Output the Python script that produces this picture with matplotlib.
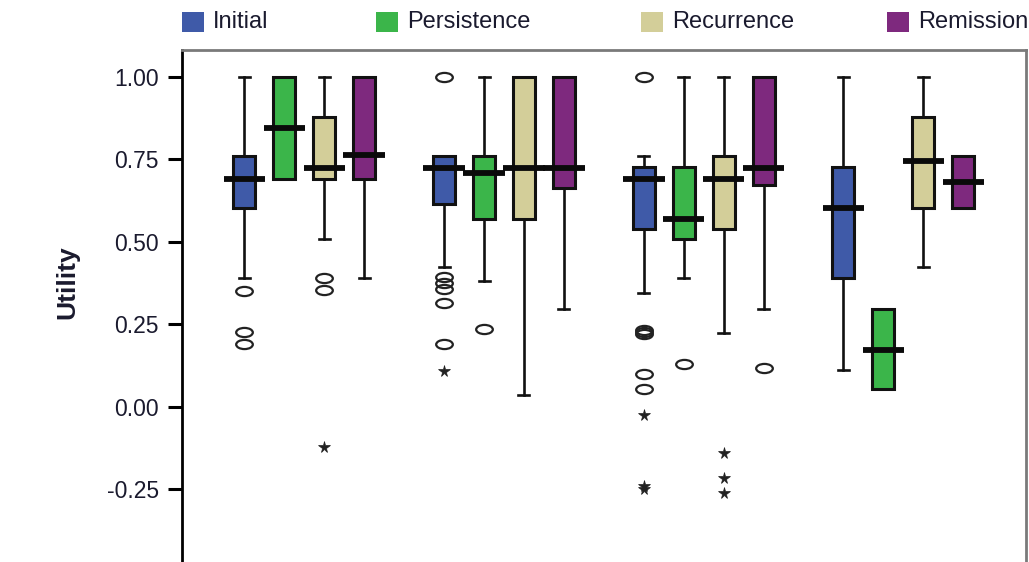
import matplotlib
matplotlib.use("Agg")
import matplotlib.pyplot as plt
import numpy as np
from matplotlib.path import Path
from matplotlib.transforms import Affine2D
from matplotlib.patches import Rectangle

plt.rcParams["font.family"] = ["Liberation Sans", "DejaVu Sans"]

# Health-state series
series = ["Initial", "Persistence", "Recurrence", "Remission"]
colors = ["#3F5AA8", "#3BB54A", "#D3CE99", "#7E297E"]

# Five-number summaries per series, one value per group (4 groups)
whislo = {
    "Initial":     [0.39, 0.422, 0.345, 0.111],
    "Persistence": [0.691, 0.382, 0.39, 0.053],
    "Recurrence":  [0.508, 0.037, 0.222, 0.422],
    "Remission":   [0.39, 0.295, 0.295, 0.601],
}
q1 = {
    "Initial":     [0.601, 0.613, 0.54, 0.389],
    "Persistence": [0.691, 0.568, 0.507, 0.053],
    "Recurrence":  [0.691, 0.568, 0.54, 0.601],
    "Remission":   [0.691, 0.662, 0.671, 0.601],
}
med = {
    "Initial":     [0.691, 0.724, 0.691, 0.601],
    "Persistence": [0.845, 0.707, 0.568, 0.172],
    "Recurrence":  [0.724, 0.724, 0.691, 0.744],
    "Remission":   [0.762, 0.724, 0.724, 0.682],
}
q3 = {
    "Initial":     [0.76, 0.76, 0.725, 0.725],
    "Persistence": [1.00, 0.76, 0.725, 0.295],
    "Recurrence":  [0.879, 1.00, 0.76, 0.879],
    "Remission":   [1.00, 1.00, 1.00, 0.76],
}
whishi = {
    "Initial":     [1.00, 0.76, 0.76, 1.00],
    "Persistence": [1.00, 1.00, 1.00, 0.295],
    "Recurrence":  [1.00, 1.00, 1.00, 1.00],
    "Remission":   [1.00, 1.00, 1.00, 0.76],
}

# Outliers (circles) and extreme values (asterisks), per series and group
outliers = {
    "Initial":     [[0.352, 0.227, 0.19],
                    [1.00, 0.392, 0.374, 0.356, 0.313, 0.19],
                    [1.00, 0.233, 0.226, 0.219, 0.098, 0.053],
                    []],
    "Persistence": [[], [0.235], [0.128], []],
    "Recurrence":  [[0.389, 0.354], [], [], []],
    "Remission":   [[], [], [0.116], []],
}
extremes = {
    "Initial":     [[], [0.109], [-0.025, -0.24, -0.25], []],
    "Persistence": [[], [], [], []],
    "Recurrence":  [[-0.121], [], [-0.141, -0.215, -0.262], []],
    "Remission":   [[], [], [], []],
}

groups = np.arange(1, 5)
offsets = [-0.3, -0.1, 0.1, 0.3]

W, H = 1029, 562
fig = plt.figure(figsize=(W / 100, H / 100), dpi=100)
ax = fig.add_axes([182 / W, 0, (1025.7 - 182) / W, (H - 50) / H])

# Horizontally stretched open circle for outliers
ell = Path.unit_circle().transformed(Affine2D().scale(1.0, 0.55))

for s, c, off in zip(series, colors, offsets):
    pos = groups + off
    stats = []
    for g in range(4):
        stats.append(dict(whislo=whislo[s][g], q1=q1[s][g], med=med[s][g],
                          q3=q3[s][g], whishi=whishi[s][g], fliers=[]))
    ax.bxp(stats, positions=pos, widths=0.11, patch_artist=True,
           showfliers=False,
           boxprops=dict(facecolor=c, edgecolor="#111111", linewidth=2.2),
           whiskerprops=dict(color="#111111", linewidth=1.9),
           capprops=dict(color="#111111", linewidth=1.9),
           medianprops=dict(linewidth=0),
           capwidths=0.055, manage_ticks=False)
    ax.hlines(med[s], pos - 0.104, pos + 0.104, color="#0a0a0a",
              linewidth=4.2, zorder=4, capstyle="butt")
    for g in range(4):
        if outliers[s][g]:
            ax.plot([pos[g]] * len(outliers[s][g]), outliers[s][g],
                    linestyle="none", marker=ell, markersize=12,
                    markerfacecolor="none", markeredgecolor="#222222",
                    markeredgewidth=1.6)
        if extremes[s][g]:
            ax.plot([pos[g]] * len(extremes[s][g]), extremes[s][g],
                    linestyle="none", marker="*", markersize=8.5,
                    color="#222222", markeredgewidth=0.5)

ax.set_xlim(0.3875, 4.6125)
ax.set_ylim(-0.4706, 1.081)
ax.set_yticks([-0.25, 0.0, 0.25, 0.5, 0.75, 1.0])
ax.set_yticklabels(["-0.25", "0.00", "0.25", "0.50", "0.75", "1.00"])
ax.set_xticks([])
ax.tick_params(axis="y", length=10, width=2.2, pad=6.5, labelsize=16.5,
               labelcolor="#1a1a2e", color="black")

ax.spines["left"].set_linewidth(2)
ax.spines["left"].set_color("black")
ax.spines["bottom"].set_visible(False)
for sp in ("top", "right"):
    ax.spines[sp].set_color("#7a7a7a")
    ax.spines[sp].set_linewidth(2)

fig.text(67 / W, 1 - 282 / H, "Utility", rotation=90, ha="center",
         va="center", fontsize=19, fontweight="bold", color="#1a1a2e")

# Legend row along the top
legend_x = [182, 376, 641, 887]
for s, c, lx in zip(series, colors, legend_x):
    fig.add_artist(Rectangle((lx / W, 1 - 32 / H), 22 / W, 20 / H,
                             transform=fig.transFigure, facecolor=c,
                             edgecolor="none"))
    fig.text((lx + 31) / W, 1 - 22 / H, s, ha="left", va="center",
             fontsize=17, color="#1a1a2e")

fig.savefig("out.png", dpi=100)
